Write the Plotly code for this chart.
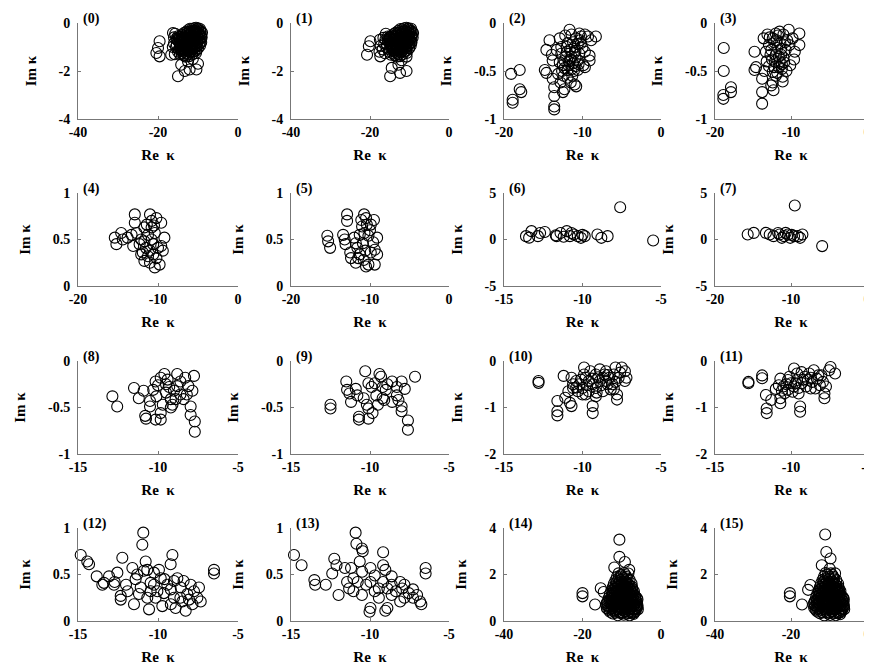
import plotly.graph_objects as go

# ---------------- data: (Re kappa, Im kappa) ----------------
kappa_0 = [(-10.5,-0.2),(-9.5,-0.25),(-11.5,-0.25),(-12.5,-0.3),(-9.0,-0.4),(-10.0,-0.4),(-11.0,-0.42),(-12.0,-0.45),
           (-13.0,-0.47),(-14.0,-0.5),(-15.0,-0.55),(-16.0,-0.6),(-9.1,-0.6),(-10.0,-0.62),(-11.0,-0.65),(-12.0,-0.66),
           (-13.0,-0.7),(-14.0,-0.72),(-15.0,-0.75),(-16.0,-0.85),(-9.5,-0.8),(-10.5,-0.85),(-11.5,-0.86),(-12.5,-0.9),
           (-13.5,-0.9),(-14.5,-0.95),(-15.5,-1.0),(-10.0,-1.05),(-11.0,-1.05),(-12.0,-1.1),(-13.0,-1.12),(-14.0,-1.15),
           (-15.0,-1.2),(-10.5,-1.25),(-11.5,-1.3),(-12.5,-1.3),(-13.5,-1.35),(-14.5,-1.3),(-9.3,-0.5),(-10.3,-0.5),
           (-11.3,-0.55),(-12.3,-0.56),(-13.3,-0.6),(-10.8,-0.3),(-9.8,-0.7),(-10.8,-0.75),(-11.8,-0.76),(-12.8,-0.8),
           (-13.8,-0.82),(-11.3,-0.95),(-12.3,-1.0),(-13.3,-1.0),(-14.3,-1.05),(-10.3,-0.95),(-15.7,-0.45),(-16.3,-1.0),
           (-15.8,-1.3),(-16.25,-0.42),(-16.7,-1.32),
           (-10.0,-0.3),(-11.0,-0.33),(-12.0,-0.36),(-13.0,-0.38),(-9.6,-0.52),(-10.6,-0.55),(-11.6,-0.58),(-12.6,-0.62),
           (-13.6,-0.64),(-14.6,-0.66),(-9.5,-0.95),(-10.5,-0.98),(-11.6,-1.0),(-12.7,-1.05),(-13.7,-1.08),(-14.8,-1.1),
           (-10.2,-0.72),(-11.2,-0.72),(-12.2,-0.78),(-13.2,-0.84),(-14.3,-0.86),(-15.3,-0.9),(-11.0,-1.18),(-12.0,-1.22),
           (-13.0,-1.25),(-14.0,-1.25),(-9.3,-0.35),(-10.3,-0.25),(-14.5,-0.58),(-15.4,-0.65),(-12.2,-1.38),(-13.1,-1.4),
           (-10.0,-0.22),(-11.0,-0.22),(-12.0,-0.24),(-9.5,-0.35),(-10.5,-0.36),(-11.5,-0.37),(-12.5,-0.4),(-13.5,-0.42),
           (-9.8,-0.45),(-10.8,-0.46),(-11.8,-0.48),(-12.8,-0.52),(-13.8,-0.55),(-14.8,-0.6),
           (-9.2,-0.58),(-10.2,-0.58),(-11.2,-0.6),(-12.2,-0.62),(-13.2,-0.65),(-14.2,-0.68),(-15.2,-0.7),
           (-9.6,-0.68),(-10.6,-0.68),(-11.6,-0.7),(-12.6,-0.72),(-13.6,-0.75),(-14.6,-0.8),
           (-9.2,-0.8),(-10.2,-0.8),(-11.2,-0.82),(-12.2,-0.84),(-13.2,-0.88),(-14.2,-0.92),
           (-9.8,-0.9),(-10.8,-0.92),(-11.8,-0.94),(-12.8,-0.96),(-13.8,-0.98),
           (-10.8,-1.02),(-11.8,-1.04),(-12.8,-1.08),(-13.8,-1.1),(-10.5,-1.15),(-11.5,-1.16),(-12.5,-1.18),(-13.5,-1.2),
           (-19.6,-0.76),(-20.0,-1.04),(-20.4,-1.25),(-19.6,-1.39),
           (-14.2,-1.74),(-12.1,-1.94),(-10.4,-1.94),(-15.0,-2.22),(-13.3,-2.0),(-12.5,-1.6),(-10.0,-1.7),(-11.3,-1.5)]

kappa_1 = [(-10.8,-0.2),(-9.6,-0.24),(-11.8,-0.26),(-12.8,-0.32),(-9.1,-0.42),(-10.2,-0.4),(-11.2,-0.43),(-12.2,-0.46),
           (-13.3,-0.48),(-14.4,-0.52),(-15.5,-0.56),(-16.6,-0.62),(-17.5,-0.7),(-9.2,-0.6),(-10.2,-0.62),(-11.2,-0.64),
           (-12.2,-0.67),(-13.2,-0.7),(-14.2,-0.73),(-15.3,-0.77),(-16.4,-0.86),(-17.3,-0.95),(-9.6,-0.8),(-10.6,-0.84),
           (-11.6,-0.87),(-12.6,-0.9),(-13.6,-0.92),(-14.7,-0.96),(-15.8,-1.02),(-16.8,-1.1),(-10.1,-1.05),(-11.1,-1.06),
           (-12.1,-1.1),(-13.1,-1.12),(-14.1,-1.16),(-15.2,-1.2),(-16.2,-1.26),(-10.7,-1.25),(-11.7,-1.3),(-12.7,-1.3),
           (-13.7,-1.35),(-14.7,-1.32),(-9.4,-0.5),(-10.4,-0.51),(-11.4,-0.55),(-12.4,-0.57),(-13.5,-0.6),(-14.8,-0.64),
           (-11.0,-0.3),(-9.9,-0.7),(-10.9,-0.75),(-11.9,-0.77),(-12.9,-0.8),(-14.0,-0.83),(-11.4,-0.95),(-12.4,-1.0),
           (-13.4,-1.02),(-14.4,-1.06),(-10.4,-0.95),(-16.0,-0.45),(-17.6,-1.2),
           (-10.2,-0.3),(-11.3,-0.34),(-12.3,-0.38),(-13.4,-0.4),(-9.7,-0.55),(-10.8,-0.58),(-11.9,-0.6),(-12.9,-0.64),
           (-14.0,-0.66),(-15.0,-0.68),(-9.7,-0.95),(-10.8,-0.98),(-11.9,-1.0),(-12.9,-1.05),(-14.0,-1.08),(-15.1,-1.1),
           (-10.4,-0.72),(-11.4,-0.72),(-12.4,-0.78),(-13.5,-0.84),(-14.6,-0.86),(-15.7,-0.9),(-11.2,-1.18),(-12.2,-1.22),
           (-13.2,-1.25),(-14.3,-1.25),(-9.4,-0.34),(-10.4,-0.25),(-15.0,-0.58),(-16.1,-0.7),(-12.4,-1.38),(-13.3,-1.4),
           (-10.3,-0.22),(-11.3,-0.22),(-12.3,-0.25),(-9.8,-0.35),(-10.8,-0.36),(-11.8,-0.38),(-12.8,-0.41),(-13.8,-0.44),
           (-10.1,-0.45),(-11.1,-0.46),(-12.1,-0.49),(-13.1,-0.53),(-14.1,-0.56),(-15.1,-0.61),
           (-9.5,-0.58),(-10.5,-0.58),(-11.5,-0.6),(-12.5,-0.63),(-13.5,-0.66),(-14.5,-0.69),(-15.5,-0.72),
           (-9.9,-0.68),(-10.9,-0.68),(-11.9,-0.7),(-12.9,-0.73),(-13.9,-0.76),(-14.9,-0.81),
           (-9.5,-0.8),(-10.5,-0.8),(-11.5,-0.82),(-12.5,-0.85),(-13.5,-0.89),(-14.5,-0.93),
           (-10.1,-0.9),(-11.1,-0.92),(-12.1,-0.94),(-13.1,-0.97),(-14.1,-0.99),
           (-11.1,-1.02),(-12.1,-1.04),(-13.1,-1.09),(-14.1,-1.11),(-10.8,-1.15),(-11.8,-1.16),(-12.8,-1.18),(-13.8,-1.2),
           (-19.9,-0.76),(-20.3,-0.97),(-20.75,-1.32),(-17.4,-1.39),
           (-12.8,-1.74),(-14.5,-1.87),(-14.9,-2.22),(-12.4,-2.08),(-10.75,-2.0),(-10.75,-1.4),(-12.0,-1.55)]

kappa_2 = [(-19.1,-0.53),(-18.0,-0.49),(-18.0,-0.69),(-17.8,-0.72),(-18.9,-0.80),(-18.9,-0.83),
           (-14.8,-0.49),(-14.6,-0.52),(-13.8,-0.58),(-13.6,-0.67),(-13.6,-0.76),(-13.6,-0.87),(-13.6,-0.90),
           (-12.3,-0.69),(-12.5,-0.72),(-11.0,-0.64),(-10.8,-0.66),(-14.6,-0.28),(-14.2,-0.18),(-12.9,-0.16),
           (-11.65,-0.07),(-10.4,-0.11),(-9.7,-0.12),(-8.3,-0.14),(-8.9,-0.18),(-9.1,-0.34),(-9.1,-0.39),
           (-9.7,-0.46),(-9.9,-0.44),(-10.6,-0.49),(-11.9,-0.49),(-13.3,-0.28),(-12.7,-0.32),(-12.3,-0.39),
           (-11.4,-0.35),(-11.0,-0.25),(-10.2,-0.21),(-9.7,-0.30),(-11.9,-0.21),(-10.8,-0.16),(-12.5,-0.44),
           (-12.9,-0.41),(-13.8,-0.39),(-13.1,-0.53),(-11.9,-0.57),(-11.3,-0.55),(-10.4,-0.32),(-10.2,-0.14),
           (-9.3,-0.14),(-11.4,-0.12),(-11.6,-0.28),(-10.6,-0.39),(-12.1,-0.35),(-12.7,-0.25),(-13.9,-0.33),
           (-10.9,-0.45),(-11.2,-0.42),(-10.0,-0.26),(-12.2,-0.13),(-10.9,-0.29),(-11.7,-0.40),(-12.4,-0.55),
           (-12.8,-0.62),(-11.5,-0.62),
           (-11.2,-0.2),(-11.0,-0.31),(-10.6,-0.22),(-11.5,-0.38),(-12.0,-0.3),(-11.8,-0.44),(-12.3,-0.47),
           (-12.6,-0.5),(-11.4,-0.48),(-10.9,-0.36),(-12.0,-0.25),(-10.3,-0.18),(-10.5,-0.43),(-11.1,-0.5)]

kappa_3 = [(-18.85,-0.26),(-18.85,-0.50),(-17.9,-0.67),(-17.9,-0.72),(-18.9,-0.75),(-18.9,-0.79),
           (-13.8,-0.84),(-13.8,-0.72),(-13.8,-0.58),(-14.8,-0.49),(-14.6,-0.46),(-14.8,-0.30),(-12.6,-0.65),
           (-12.4,-0.62),(-11.1,-0.61),(-11.1,-0.56),(-10.1,-0.44),(-9.5,-0.30),(-8.9,-0.23),(-8.9,-0.11),
           (-10.3,-0.07),(-12.0,-0.11),(-13.6,-0.16),(-12.9,-0.23),(-12.4,-0.16),(-11.5,-0.09),(-11.0,-0.12),
           (-10.5,-0.18),(-11.8,-0.26),(-12.7,-0.33),(-13.3,-0.30),(-11.3,-0.33),(-10.7,-0.28),(-10.2,-0.23),
           (-12.1,-0.40),(-11.6,-0.46),(-10.9,-0.41),(-12.9,-0.45),(-13.2,-0.40),(-11.2,-0.48),(-10.6,-0.50),
           (-12.4,-0.51),(-11.9,-0.18),(-13.1,-0.12),(-9.8,-0.16),(-9.6,-0.38),(-12.6,-0.28),(-11.4,-0.21),
           (-11.0,-0.36),(-12.0,-0.55),(-13.5,-0.50),(-12.3,-0.70),
           (-12.2,-0.2),(-11.7,-0.13),(-12.5,-0.38),(-11.5,-0.4),(-12.0,-0.33),(-11.3,-0.27),(-10.8,-0.2),
           (-12.8,-0.15),(-11.8,-0.52),(-11.2,-0.43),(-12.2,-0.46),(-11.6,-0.35)]

kappa_4 = [(-15.4,0.52),(-15.2,0.45),(-14.6,0.57),(-14.4,0.50),(-13.3,0.55),(-13.1,0.43),(-13.8,0.52),(-12.7,0.57),
           (-12.9,0.77),(-12.9,0.68),(-12.1,0.50),(-11.7,0.63),(-11.0,0.77),(-10.8,0.70),(-10.2,0.73),(-9.6,0.68),
           (-9.2,0.52),(-9.4,0.38),(-9.8,0.23),(-10.4,0.20),(-11.25,0.32),(-11.7,0.27),(-11.9,0.36),(-10.6,0.45),
           (-11.25,0.55),(-10.4,0.57),(-10.8,0.63),(-10.0,0.41),(-11.5,0.41),(-11.7,0.48),(-10.8,0.50),(-10.6,0.34),
           (-12.1,0.34),(-11.0,0.25),(-10.2,0.30),(-9.6,0.43),(-11.4,0.66),(-10.5,0.65),(-12.3,0.45),(-11.0,0.38)]

kappa_5 = [(-15.4,0.54),(-15.3,0.48),(-15.05,0.41),(-13.4,0.55),(-13.2,0.50),(-13.1,0.45),(-12.9,0.77),(-12.9,0.70),
           (-12.4,0.30),(-11.8,0.25),(-11.6,0.41),(-11.3,0.55),(-11.0,0.64),(-10.75,0.77),(-10.5,0.73),(-10.2,0.54),
           (-9.9,0.36),(-10.2,0.23),(-10.5,0.21),(-9.4,0.23),(-9.1,0.34),(-9.4,0.39),(-9.1,0.52),(-9.5,0.71),
           (-9.9,0.66),(-11.3,0.34),(-11.8,0.46),(-12.0,0.52),(-10.9,0.46),(-10.6,0.38),(-10.0,0.60),(-10.7,0.57),
           (-11.5,0.30),(-10.8,0.28),(-9.6,0.47),(-12.5,0.36),(-10.4,0.66),(-11.1,0.71)]

kappa_6 = [(-13.6,0.36),(-13.25,0.9),(-12.84,0.36),(-12.7,0.7),(-13.4,0.2),(-12.4,0.8),(-11.65,0.36),(-11.4,0.7),
           (-11.0,0.9),(-10.8,0.36),(-10.55,0.54),(-10.3,0.36),(-10.1,0.18),(-9.86,0.36),(-11.2,0.3),(-11.7,0.45),
           (-10.7,0.7),(-10.0,0.5),(-9.05,0.54),(-8.8,0.18),(-8.4,0.36),(-7.6,3.46),(-5.5,-0.1)]

kappa_7 = [(-15.7,0.54),(-14.9,0.71),(-13.3,0.71),(-12.8,0.54),(-12.3,0.36),(-11.5,0.54),(-11.2,0.18),(-10.9,0.36),
           (-10.4,0.54),(-10.1,0.18),(-9.6,0.36),(-9.1,0.36),(-8.5,0.54),(-10.7,0.71),(-11.7,0.70),(-9.9,0.5),
           (-8.8,0.18),(-9.5,3.65),(-5.9,-0.71)]

kappa_8 = [(-12.85,-0.38),(-12.55,-0.49),(-11.5,-0.29),(-11.2,-0.40),(-10.9,-0.32),(-10.8,-0.59),(-10.75,-0.62),
           (-10.5,-0.49),(-10.15,-0.63),(-10.15,-0.22),(-9.83,-0.18),(-9.6,-0.14),(-9.83,-0.56),(-9.83,-0.63),
           (-9.5,-0.34),(-9.2,-0.41),(-9.1,-0.47),(-9.2,-0.50),(-8.8,-0.14),(-8.8,-0.27),(-8.6,-0.36),(-8.4,-0.41),
           (-8.3,-0.18),(-7.85,-0.32),(-7.75,-0.16),(-7.96,-0.49),(-7.96,-0.58),(-7.7,-0.65),(-7.7,-0.76),
           (-10.5,-0.43),(-10.1,-0.38),(-9.5,-0.25),(-8.9,-0.41),(-8.6,-0.22),(-8.1,-0.27),(-10.3,-0.31),
           (-9.7,-0.47),(-9.4,-0.20),(-9.0,-0.32),(-9.3,-0.28),(-10.0,-0.26),(-8.2,-0.36)]

kappa_9 = [(-12.5,-0.47),(-12.5,-0.51),(-11.5,-0.22),(-11.45,-0.31),(-11.3,-0.35),(-11.2,-0.44),(-10.9,-0.30),
           (-10.8,-0.37),(-10.3,-0.11),(-10.1,-0.24),(-10.2,-0.47),(-10.1,-0.51),(-10.7,-0.60),(-10.7,-0.63),
           (-10.1,-0.62),(-9.84,-0.56),(-9.7,-0.24),(-9.4,-0.14),(-9.3,-0.17),(-9.2,-0.28),(-9.2,-0.40),(-9.1,-0.42),
           (-9.0,-0.31),(-8.6,-0.22),(-8.3,-0.28),(-8.0,-0.22),(-7.8,-0.30),(-8.2,-0.42),(-8.0,-0.49),(-8.0,-0.54),
           (-7.6,-0.64),(-7.6,-0.74),(-7.15,-0.17),(-9.6,-0.37),(-8.6,-0.44),(-8.3,-0.37),(-9.9,-0.28),(-8.9,-0.25),
           (-9.5,-0.47),(-10.4,-0.40)]

kappa_10 = [(-12.8,-0.43),(-12.8,-0.47),(-11.6,-0.86),(-11.6,-1.08),(-11.6,-1.17),(-11.2,-0.32),(-11.1,-0.79),
            (-10.8,-0.90),(-10.7,-0.97),(-10.7,-0.36),(-10.6,-0.58),(-9.9,-0.14),(-9.8,-0.72),(-9.35,-0.97),
            (-9.35,-1.12),(-9.15,-0.76),(-8.9,-0.18),(-8.5,-0.22),(-8.4,-0.50),(-7.9,-0.14),(-7.8,-0.72),(-7.8,-0.83),
            (-7.5,-0.14),(-7.3,-0.22),(-7.2,-0.36),(-7.3,-0.43),(-10.4,-0.43),(-10.2,-0.50),(-10.0,-0.58),(-9.8,-0.36),
            (-9.6,-0.43),(-9.35,-0.50),(-9.15,-0.58),(-8.9,-0.43),(-8.7,-0.36),(-8.5,-0.43),(-8.3,-0.36),(-8.1,-0.50),
            (-10.0,-0.72),(-9.6,-0.65),(-10.3,-0.65),(-9.15,-0.29),(-8.7,-0.65),(-8.2,-0.61),(-8.0,-0.29),(-7.7,-0.36),
            (-10.6,-0.50),(-9.9,-0.29),(-9.5,-0.22),(-8.6,-0.29),(-7.9,-0.45),(-10.9,-0.65),(-9.1,-0.68),(-8.0,-0.60),
            (-10.1,-0.4),(-9.7,-0.52),(-9.4,-0.38),(-8.8,-0.52),(-10.4,-0.57),(-9.0,-0.35),(-8.4,-0.3),(-7.6,-0.25)]

kappa_11 = [(-12.8,-0.45),(-12.8,-0.48),(-11.9,-0.31),(-11.9,-0.37),(-11.65,-0.73),(-11.6,-1.02),(-11.6,-1.12),
            (-11.3,-0.84),(-10.7,-0.91),(-10.7,-0.80),(-10.7,-0.38),(-10.2,-0.41),(-9.8,-0.16),(-9.5,-0.70),
            (-9.4,-0.98),(-9.4,-1.09),(-8.7,-0.59),(-8.5,-0.20),(-8.2,-0.31),(-7.8,-0.70),(-7.8,-0.80),(-7.5,-0.20),
            (-7.4,-0.13),(-7.1,-0.27),(-10.5,-0.55),(-10.2,-0.62),(-10.0,-0.48),(-9.8,-0.55),(-9.6,-0.41),(-9.3,-0.48),
            (-9.1,-0.34),(-8.9,-0.41),(-8.6,-0.45),(-8.3,-0.38),(-8.1,-0.52),(-7.9,-0.45),(-10.4,-0.69),(-9.9,-0.66),
            (-9.6,-0.27),(-9.0,-0.55),(-8.8,-0.27),(-8.0,-0.31),(-7.7,-0.55),(-10.8,-0.52),(-9.3,-0.24),(-8.4,-0.59),
            (-10.1,-0.34),(-11.0,-0.60),
            (-10.3,-0.5),(-9.7,-0.48),(-9.2,-0.4),(-8.7,-0.36),(-10.6,-0.64),(-9.5,-0.58)]

kappa_12 = [(-14.83,0.71),(-14.42,0.64),(-14.31,0.61),(-13.83,0.48),(-13.48,0.39),(-13.38,0.41),(-13.06,0.48),
            (-12.75,0.39),(-12.71,0.42),(-12.54,0.52),(-12.23,0.68),(-12.33,0.27),(-12.33,0.23),(-11.6,0.57),
            (-11.5,0.18),(-11.4,0.45),(-11.19,0.29),(-10.98,0.82),(-10.92,0.95),(-10.77,0.64),(-10.88,0.54),
            (-10.67,0.25),(-10.56,0.125),(-10.46,0.41),(-10.25,0.52),(-10.04,0.32),(-9.83,0.46),(-9.73,0.16),
            (-9.63,0.30),(-9.42,0.39),(-9.21,0.61),(-9.1,0.71),(-9.0,0.25),(-8.79,0.46),(-8.58,0.36),(-8.48,0.21),
            (-8.27,0.11),(-8.17,0.29),(-7.96,0.39),(-7.75,0.32),(-7.54,0.25),(-7.44,0.36),(-6.5,0.55),(-6.5,0.51),
            (-7.33,0.21),(-7.85,0.18),(-8.9,0.14),(-9.2,0.18),(-10.15,0.25),(-11.08,0.36),(-11.3,0.5),(-11.9,0.32),
            (-12.0,0.39),(-10.25,0.39),(-9.0,0.43),(-8.4,0.43),(-9.6,0.45),(-9.2,0.34),(-8.6,0.25),(-8.06,0.23),
            (-10.67,0.55),(-9.94,0.55),(-10.46,0.32)]

kappa_13 = [(-14.81,0.71),(-14.33,0.60),(-13.52,0.44),(-13.47,0.39),(-12.8,0.39),(-12.39,0.51),(-12.26,0.67),
            (-12.12,0.60),(-11.99,0.28),(-11.59,0.57),(-10.91,0.95),(-10.86,0.83),(-10.51,0.78),(-10.46,0.75),
            (-10.65,0.64),(-9.97,0.57),(-9.97,0.14),(-10.03,0.10),(-9.17,0.74),(-9.17,0.60),(-9.03,0.55),(-8.9,0.14),
            (-9.03,0.11),(-8.63,0.48),(-8.36,0.32),(-7.96,0.35),(-7.82,0.39),(-7.55,0.30),(-7.28,0.34),(-7.02,0.28),
            (-6.83,0.21),(-6.75,0.18),(-6.48,0.57),(-6.48,0.51),(-7.28,0.25),(-7.82,0.25),(-8.09,0.21),(-8.63,0.28),
            (-9.44,0.35),(-9.7,0.32),(-10.24,0.39),(-10.78,0.42),(-11.05,0.46),(-11.32,0.35),(-11.45,0.42),
            (-10.51,0.28),(-11.05,0.32),(-9.44,0.25),(-8.9,0.35),(-9.97,0.42),(-8.09,0.42),(-9.17,0.42),(-9.7,0.49),
            (-10.5,0.53),(-11.2,0.57),(-8.63,0.39)]

kappa_14 = [(-11.0,0.25),(-9.5,0.27),(-8.0,0.24),(-7.0,0.3),
            (-13.0,0.4),(-12.0,0.42),(-10.5,0.38),(-9.0,0.41),(-7.5,0.4),(-6.5,0.43),
            (-13.8,0.55),(-12.5,0.56),(-11.2,0.53),(-10.0,0.57),(-8.8,0.54),(-7.6,0.56),(-6.3,0.55),
            (-14.0,0.7),(-12.8,0.72),(-11.6,0.69),(-10.4,0.71),(-9.2,0.7),(-8.0,0.73),(-6.8,0.7),(-6.0,0.68),
            (-13.6,0.85),(-12.4,0.86),(-11.2,0.84),(-10.0,0.87),(-8.8,0.85),(-7.6,0.84),(-6.4,0.86),
            (-13.3,1.0),(-12.0,1.02),(-10.8,0.99),(-9.6,1.01),(-8.4,1.0),(-7.2,1.03),(-6.2,1.0),
            (-13.0,1.15),(-11.7,1.16),(-10.5,1.14),(-9.3,1.15),(-8.1,1.17),(-7.0,1.14),
            (-12.6,1.3),(-11.4,1.31),(-10.2,1.29),(-9.0,1.3),(-7.8,1.32),(-6.9,1.28),
            (-12.3,1.45),(-11.0,1.46),(-9.8,1.44),(-8.6,1.45),(-7.4,1.47),
            (-12.0,1.6),(-10.8,1.62),(-9.6,1.59),(-8.4,1.6),(-7.5,1.61),
            (-11.6,1.75),(-10.4,1.76),(-9.2,1.74),(-8.0,1.77),
            (-11.2,1.9),(-10.0,1.92),(-8.8,1.89),
            (-10.8,2.05),(-9.4,2.06),(-8.3,2.04),(-11.9,2.3),(-8.1,2.2),
            (-12.3,0.32),(-10.2,0.33),(-8.7,0.31),(-7.4,0.33),
            (-13.4,0.48),(-11.8,0.47),(-10.8,0.49),(-9.7,0.47),(-8.2,0.48),(-6.9,0.49),(-5.9,0.5),
            (-13.2,0.62),(-12.0,0.63),(-10.7,0.61),(-9.5,0.63),(-8.3,0.62),(-7.0,0.64),(-6.0,0.6),
            (-13.8,0.78),(-12.6,0.79),(-11.4,0.77),(-10.2,0.78),(-9.0,0.79),(-7.8,0.77),(-6.6,0.78),
            (-13.0,0.93),(-11.8,0.94),(-10.6,0.92),(-9.4,0.93),(-8.2,0.94),(-7.0,0.92),(-6.0,0.93),
            (-12.6,1.08),(-11.4,1.09),(-10.2,1.07),(-9.0,1.08),(-7.8,1.09),(-6.6,1.07),
            (-12.3,1.23),(-11.1,1.24),(-9.9,1.22),(-8.7,1.23),(-7.5,1.24),
            (-12.0,1.38),(-10.8,1.39),(-9.6,1.37),(-8.4,1.38),(-7.3,1.39),
            (-11.6,1.53),(-10.4,1.54),(-9.2,1.52),(-8.0,1.53),
            (-11.3,1.68),(-10.0,1.69),(-8.9,1.67),
            (-10.8,1.83),(-9.7,1.84),(-8.5,1.82),(-10.2,1.98),(-9.0,1.97),
            (-11.5,0.36),(-9.8,0.37),(-8.3,0.35),(-6.8,0.37),
            (-12.9,0.52),(-11.5,0.51),(-10.3,0.52),(-9.2,0.51),(-7.9,0.52),(-6.6,0.52),
            (-13.6,0.66),(-12.3,0.67),(-11.1,0.65),(-9.9,0.66),(-8.7,0.67),(-7.5,0.65),(-6.3,0.66),
            (-13.1,0.82),(-11.9,0.81),(-10.7,0.82),(-9.5,0.81),(-8.3,0.82),(-7.1,0.81),(-6.1,0.82),
            (-12.6,0.96),(-11.4,0.97),(-10.2,0.96),(-9.0,0.97),(-7.8,0.96),(-6.6,0.97),
            (-12.3,1.12),(-11.0,1.11),(-9.8,1.12),(-8.6,1.11),(-7.4,1.12),
            (-11.9,1.26),(-10.7,1.27),(-9.5,1.26),(-8.3,1.27),(-7.2,1.26),
            (-11.5,1.41),(-10.3,1.42),(-9.1,1.41),(-7.9,1.42),(-11.0,1.56),(-9.9,1.57),(-8.7,1.56),
            (-20.0,1.2),(-20.0,1.06),(-16.8,0.71),(-15.35,1.41),(-14.6,1.25),(-10.6,3.5),(-10.6,2.76),(-9.2,2.54)]

kappa_15 = [(-11.2,0.24),(-9.7,0.26),(-8.2,0.25),(-7.1,0.29),
            (-13.1,0.41),(-12.1,0.4),(-10.6,0.39),(-9.1,0.42),(-7.6,0.4),(-6.6,0.44),
            (-13.9,0.56),(-12.6,0.55),(-11.3,0.54),(-10.1,0.56),(-8.9,0.55),(-7.7,0.57),(-6.4,0.54),
            (-14.1,0.71),(-12.9,0.7),(-11.7,0.7),(-10.5,0.72),(-9.3,0.69),(-8.1,0.72),(-6.9,0.71),(-6.1,0.69),
            (-13.7,0.86),(-12.5,0.85),(-11.3,0.85),(-10.1,0.86),(-8.9,0.84),(-7.7,0.85),(-6.5,0.87),
            (-13.4,1.01),(-12.1,1.0),(-10.9,1.0),(-9.7,1.02),(-8.5,0.99),(-7.3,1.02),(-6.3,1.01),
            (-13.1,1.16),(-11.8,1.15),(-10.6,1.15),(-9.4,1.16),(-8.2,1.16),(-7.1,1.15),
            (-12.7,1.31),(-11.5,1.3),(-10.3,1.3),(-9.1,1.31),(-7.9,1.31),(-7.0,1.29),
            (-12.4,1.46),(-11.1,1.45),(-9.9,1.45),(-8.7,1.46),(-7.5,1.46),
            (-12.1,1.61),(-10.9,1.61),(-9.7,1.6),(-8.5,1.61),(-7.6,1.6),
            (-11.7,1.76),(-10.5,1.75),(-9.3,1.75),(-8.1,1.76),
            (-11.3,1.91),(-10.1,1.91),(-8.9,1.9),
            (-10.9,2.06),(-9.5,2.05),(-8.4,2.05),(-9.8,2.25),
            (-12.4,0.33),(-10.3,0.32),(-8.8,0.32),(-7.5,0.34),
            (-13.5,0.49),(-11.9,0.48),(-10.9,0.48),(-9.8,0.48),(-8.3,0.49),(-7.0,0.48),(-6.0,0.51),
            (-13.3,0.63),(-12.1,0.62),(-10.8,0.62),(-9.6,0.62),(-8.4,0.63),(-7.1,0.63),(-6.1,0.61),
            (-13.9,0.79),(-12.7,0.78),(-11.5,0.78),(-10.3,0.79),(-9.1,0.78),(-7.9,0.78),(-6.7,0.79),
            (-13.1,0.94),(-11.9,0.93),(-10.7,0.93),(-9.5,0.94),(-8.3,0.93),(-7.1,0.93),(-6.1,0.94),
            (-12.7,1.09),(-11.5,1.08),(-10.3,1.08),(-9.1,1.09),(-7.9,1.08),(-6.7,1.08),
            (-12.4,1.24),(-11.2,1.23),(-10.0,1.23),(-8.8,1.24),(-7.6,1.23),
            (-12.1,1.39),(-10.9,1.38),(-9.7,1.38),(-8.5,1.39),(-7.4,1.38),
            (-11.7,1.54),(-10.5,1.53),(-9.3,1.53),(-8.1,1.54),
            (-11.4,1.69),(-10.1,1.68),(-9.0,1.68),
            (-10.9,1.84),(-9.8,1.83),(-8.6,1.83),(-10.3,1.99),(-9.1,1.98),
            (-11.6,0.37),(-9.9,0.36),(-8.4,0.36),(-6.9,0.38),
            (-13.0,0.53),(-11.6,0.52),(-10.4,0.53),(-9.3,0.52),(-8.0,0.53),(-6.7,0.53),
            (-13.7,0.67),(-12.4,0.66),(-11.2,0.66),(-10.0,0.67),(-8.8,0.66),(-7.6,0.66),(-6.4,0.67),
            (-13.2,0.83),(-12.0,0.82),(-10.8,0.83),(-9.6,0.82),(-8.4,0.83),(-7.2,0.82),(-6.2,0.83),
            (-12.7,0.97),(-11.5,0.96),(-10.3,0.97),(-9.1,0.96),(-7.9,0.97),(-6.7,0.96),
            (-12.4,1.12),(-11.1,1.12),(-9.9,1.11),(-8.7,1.12),(-7.5,1.11),
            (-12.0,1.27),(-10.8,1.26),(-9.6,1.27),(-8.4,1.26),(-7.3,1.27),
            (-11.6,1.42),(-10.4,1.41),(-9.2,1.42),(-8.0,1.41),(-11.1,1.57),(-10.0,1.56),(-8.8,1.57),
            (-20.3,1.2),(-20.3,1.06),(-17.1,0.71),(-15.5,1.34),(-14.9,1.55),(-11.0,3.72),(-10.7,2.97),(-9.6,2.69),(-11.9,2.4)]

panels = [kappa_0, kappa_1, kappa_2, kappa_3, kappa_4, kappa_5, kappa_6, kappa_7,
          kappa_8, kappa_9, kappa_10, kappa_11, kappa_12, kappa_13, kappa_14, kappa_15]

panel_labels = ["(0)", "(1)", "(2)", "(3)", "(4)", "(5)", "(6)", "(7)",
                "(8)", "(9)", "(10)", "(11)", "(12)", "(13)", "(14)", "(15)"]

x_ranges = [[-40, 0], [-40, 0], [-20, 0], [-20, 0],
            [-20, 0], [-20, 0], [-15, -5], [-20, 0],
            [-15, -5], [-15, -5], [-15, -5], [-15, -5],
            [-15, -5], [-15, -5], [-40, 0], [-40, 0]]
y_ranges = [[-4, 0], [-4, 0], [-1, 0], [-1, 0],
            [0, 1], [0, 1], [-5, 5], [-5, 5],
            [-1, 0], [-1, 0], [-2, 0], [-2, 0],
            [0, 1], [0, 1], [0, 4], [0, 4]]
x_tick_vals = [[-40, -20, 0], [-40, -20, 0], [-20, -10, 0], [-20, -10, 0],
               [-20, -10, 0], [-20, -10, 0], [-15, -10, -5], [-20, -10, 0],
               [-15, -10, -5], [-15, -10, -5], [-15, -10, -5], [-15, -10, -5],
               [-15, -10, -5], [-15, -10, -5], [-40, -20, 0], [-40, -20, 0]]
y_tick_vals = [[-4, -2, 0], [-4, -2, 0], [-1, -0.5, 0], [-1, -0.5, 0],
               [0, 0.5, 1], [0, 0.5, 1], [-5, 0, 5], [-5, 0, 5],
               [-1, -0.5, 0], [-1, -0.5, 0], [-2, -1, 0], [-2, -1, 0],
               [0, 0.5, 1], [0, 0.5, 1], [0, 2, 4], [0, 2, 4]]

x_title = "Re\u00a0\u00a0κ"
y_title = "Im\u00a0κ"

# ---------------- layout geometry (pixels) ----------------
W, H = 872, 668
col_px = [(70, 230), (283, 441), (496, 653), (707, 859)]
row_px = [(15, 111), (185, 278), (353, 446), (520, 613)]

FONT = "Liberation Serif"
AX_COLOR = "#777777"


def fmt(v):
    return "%g" % v


fig = go.Figure()
annotations = []
for i, pts in enumerate(panels):
    r, c = divmod(i, 4)
    n = "" if i == 0 else str(i + 1)
    xs = [p[0] for p in pts]
    ys = [p[1] for p in pts]
    fig.add_trace(go.Scatter(
        x=xs, y=ys, mode="markers", xaxis="x" + n, yaxis="y" + n,
        marker=dict(symbol="circle-open", size=11, color="black", line=dict(width=1.1, color="black")),
        cliponaxis=False, showlegend=False, hoverinfo="x+y"))
    x0, x1 = col_px[c]
    y0, y1 = row_px[r]
    axis_common = dict(
        showline=True, linecolor=AX_COLOR, linewidth=1, mirror=False, automargin=False,
        showgrid=False, zeroline=False, ticks="inside", ticklen=3, tickwidth=1, tickcolor=AX_COLOR,
        tickfont=dict(family=FONT, size=14, color="black", weight="bold"),
        fixedrange=True,
    )
    fig.layout["xaxis" + n] = dict(
        axis_common, domain=[x0 / W, x1 / W], anchor="y" + n,
        range=x_ranges[i], tickmode="array", tickvals=x_tick_vals[i],
        ticktext=[fmt(v) for v in x_tick_vals[i]],
        title=dict(text=x_title, font=dict(family=FONT, size=15, color="black", weight="bold"), standoff=10),
    )
    fig.layout["yaxis" + n] = dict(
        axis_common, domain=[1 - y1 / H, 1 - y0 / H], anchor="x" + n,
        range=y_ranges[i], tickmode="array", tickvals=y_tick_vals[i],
        ticktext=[fmt(v) for v in y_tick_vals[i]], ticklabelstandoff=4,
        title=dict(text=y_title, font=dict(family=FONT, size=15, color="black", weight="bold"), standoff=18),
    )
    annotations.append(dict(
        text=panel_labels[i], xref="x" + n + " domain", yref="y" + n + " domain",
        x=0, y=1, xanchor="left", yanchor="middle", xshift=3, yshift=4, showarrow=False,
        font=dict(family=FONT, size=14, color="black", weight="bold")))

fig.update_layout(
    template="none",
    width=W, height=H, margin=dict(l=0, r=0, t=0, b=0, pad=0),
    paper_bgcolor="white", plot_bgcolor="white",
    annotations=annotations,
)

fig.write_html("out.html")
